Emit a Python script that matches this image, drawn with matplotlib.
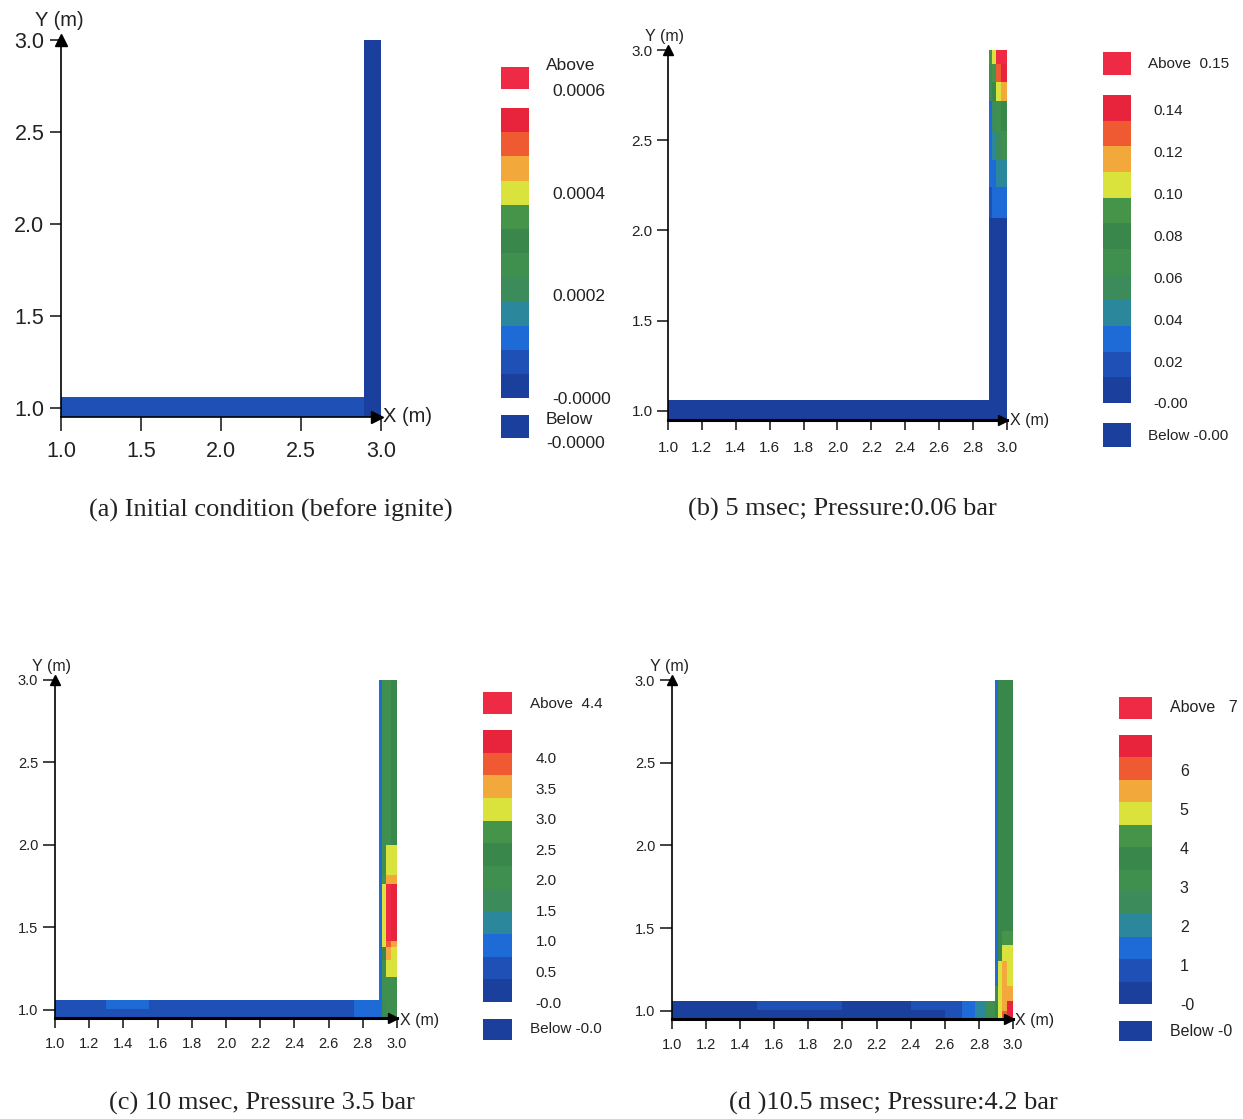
import numpy as np
import matplotlib
matplotlib.use("Agg")
import matplotlib.pyplot as plt
from matplotlib.colors import ListedColormap, BoundaryNorm
from matplotlib.cm import ScalarMappable

W, H = 1243, 1119

# contour band colours, low -> high
BAND_COLORS = ["#1b3f9c", "#1f50b6", "#1e6bd8", "#2a879c", "#3b8c5a", "#3f8f4e",
               "#3a874c", "#46944a", "#d9e33c", "#f2a83a", "#f05a32", "#e8233c"]
OVER_COLOR = "#ee2a44"
UNDER_COLOR = "#1b3f9c"

# vertical leg columns (x edges across pipe width)
V_X = [2.895, 2.91, 2.935, 2.965, 3.0]
H_Y = [0.95, 1.005, 1.06]

# ---- panel (a): initial condition
a_vmax = 0.000565
a_hx = [1.0, 1.4, 1.9, 2.3, 2.6, 2.895]
a_hval = [[0.00006, 0.00006, 0.00006, 0.00006, 0.00006],
          [0.00005, 0.00006, 0.00005, 0.00006, 0.00005]]
a_vy = [0.95, 3.0]
a_vval = [[0.00002, 0.00002, 0.00002, 0.00002]]
a_ticks = [0.0004, 0.0002, 0.0]
a_labels = ["0.0004", "0.0002", "-0.0000"]

# ---- panel (b): 5 msec
b_vmax = 0.147
b_hx = [1.0, 2.895]
b_hval = [[0.005], [0.005]]
b_vy = [0.95, 2.07, 2.24, 2.39, 2.55, 2.72, 2.82, 2.92, 3.0]
b_vval = [[0.005, 0.005, 0.005, 0.005],
          [0.02, 0.03, 0.03, 0.03],
          [0.03, 0.03, 0.045, 0.045],
          [0.03, 0.045, 0.06, 0.07],
          [0.035, 0.06, 0.07, 0.08],
          [0.06, 0.08, 0.105, 0.118],
          [0.07, 0.09, 0.13, 0.14],
          [0.09, 0.105, 0.16, 0.16]]
b_ticks = [0.14, 0.12, 0.10, 0.08, 0.06, 0.04, 0.02, 0.0]
b_labels = ["0.14", "0.12", "0.10", "0.08", "0.06", "0.04", "0.02", "-0.00"]

# ---- panel (c): 10 msec
c_vmax = 4.45
c_hx = [1.0, 1.3, 1.55, 1.85, 2.2, 2.5, 2.75, 2.895]
c_hval = [[0.5, 0.6, 0.5, 0.5, 0.5, 0.5, 0.9],
          [0.6, 0.9, 0.6, 0.6, 0.6, 0.6, 0.9]]
c_vy = [0.95, 1.06, 1.2, 1.3, 1.38, 1.42, 1.76, 1.82, 2.0, 3.0]
c_vval = [[0.9, 1.6, 2.0, 2.0],
          [1.0, 2.0, 2.2, 2.2],
          [1.0, 2.2, 3.1, 3.1],
          [1.0, 2.4, 3.5, 3.1],
          [1.0, 3.1, 3.9, 3.5],
          [1.0, 3.1, 4.6, 4.2],
          [1.0, 2.6, 3.5, 3.5],
          [1.0, 2.2, 3.1, 3.1],
          [1.0, 2.2, 2.2, 2.4]]
c_ticks = [4.0, 3.5, 3.0, 2.5, 2.0, 1.5, 1.0, 0.5, 0.0]
c_labels = ["4.0", "3.5", "3.0", "2.5", "2.0", "1.5", "1.0", "0.5", "-0.0"]

# ---- panel (d): 10.5 msec
d_vmax = 6.9
d_hx = [1.0, 1.5, 2.0, 2.4, 2.6, 2.7, 2.78, 2.84, 2.895]
d_hval = [[0.4, 0.5, 0.4, 0.5, 0.9, 1.4, 2.0, 3.0],
          [0.5, 0.6, 0.5, 0.6, 0.9, 1.5, 2.2, 3.2]]
d_vy = [0.95, 1.0, 1.06, 1.15, 1.3, 1.4, 1.48, 3.0]
d_vval = [[3.5, 5.0, 6.2, 6.8],
          [4.0, 5.0, 5.6, 6.5],
          [2.5, 5.0, 5.5, 5.5],
          [1.5, 5.0, 5.5, 5.0],
          [1.5, 3.6, 5.0, 4.8],
          [1.5, 3.6, 4.3, 4.3],
          [1.5, 3.6, 3.6, 3.6]]
d_ticks = [6, 5, 4, 3, 2, 1, 0]
d_labels = ["6", "5", "4", "3", "2", "1", "-0"]

CAPTIONS = ["(a) Initial condition (before ignite)",
            "(b) 5 msec; Pressure:0.06 bar",
            "(c) 10 msec, Pressure 3.5 bar",
            "(d )10.5 msec; Pressure:4.2 bar"]

SANS = "Liberation Sans"
SERIF = "Liberation Serif"
INK = "#222222"


def rect(x0, y0, x1, y1):
    """pixel box (top-left origin) -> figure fraction rect"""
    return [x0 / W, 1 - y1 / H, (x1 - x0) / W, (y1 - y0) / H]


def ptext(fig, x, y, s, **kw):
    """text at pixel position (top-left origin)"""
    return fig.text(x / W, 1 - y / H, s, **kw)


def make_cmap():
    cmap = ListedColormap(BAND_COLORS)
    cmap.set_over(OVER_COLOR)
    cmap.set_under(UNDER_COLOR)
    return cmap


def draw_panel(fig, p):
    cmap = make_cmap()
    norm = BoundaryNorm(np.linspace(0, p["vmax"], 13), cmap.N)

    ax = fig.add_axes(rect(*p["ax"]))
    ax.pcolormesh(p["hx"], H_Y, np.array(p["hval"]), cmap=cmap, norm=norm, shading="flat")
    ax.pcolormesh(V_X, p["vy"], np.array(p["vval"]), cmap=cmap, norm=norm, shading="flat")
    ax.set_xlim(1.0, 3.0)
    ax.set_ylim(0.95, 3.0)
    ax.set_xticks(p["xticks"])
    ax.set_xticklabels([f"{v:.1f}" for v in p["xticks"]])
    ax.set_yticks([1.0, 1.5, 2.0, 2.5, 3.0])
    ax.set_yticklabels(["1.0", "1.5", "2.0", "2.5", "3.0"])
    for s in ["top", "right"]:
        ax.spines[s].set_visible(False)
    ax.spines["left"].set_linewidth(1.2)
    ax.spines["bottom"].set_linewidth(p["xlw"])
    ax.tick_params(axis="x", direction="out", length=p["xtl"], width=1.2, pad=p["xpad"],
                   labelsize=p["fs"], colors=INK)
    ax.tick_params(axis="y", direction="out", length=p["ytl"], width=1.2, pad=p["ypad"],
                   labelsize=p["fs"], colors=INK)
    for t in ax.get_xticklabels() + ax.get_yticklabels():
        t.set_family(SANS)
    # axis arrows
    ax.plot([1.0], [3.0], marker="^", ms=p["ams"], color="black", clip_on=False, zorder=5)
    ax.plot([2.975], [0.95], marker=">", ms=p["ams"], color="black", clip_on=False, zorder=5)
    ax.set_facecolor("none")

    # axis names
    ptext(fig, *p["ylab"], "Y (m)", family=SANS, fontsize=p["lfs"], color=INK,
          va="center", ha="left")
    ptext(fig, *p["xlab"], "X (m)", family=SANS, fontsize=p["lfs"], color=INK,
          va="center", ha="left")

    # colour bar
    cx0, cx1 = p["cbx"]
    cax = fig.add_axes(rect(cx0, p["bar"][0], cx1, p["bar"][1]))
    sm = ScalarMappable(norm=norm, cmap=cmap)
    cb = fig.colorbar(sm, cax=cax, orientation="vertical", extend="neither")
    cb.outline.set_visible(False)
    cb.minorticks_off()
    cb.set_ticks(p["cticks"])
    cb.set_ticklabels(p["clabels"])
    cax.tick_params(which="both", length=0, pad=p["cpad"], labelsize=p["cfs"], colors=INK)
    for t in cax.get_yticklabels():
        t.set_family(SANS)
        t.set_ha("left")

    for box, color in [(p["above"], OVER_COLOR), (p["below"], UNDER_COLOR)]:
        bax = fig.add_axes(rect(cx0, box[0], cx1, box[1]))
        bax.set_facecolor(color)
        bax.set_xticks([])
        bax.set_yticks([])
        for s in bax.spines.values():
            s.set_visible(False)

    for x, y, s in p["cb_texts"]:
        ptext(fig, x, y, s, family=SANS, fontsize=p["cfs"], color=INK, va="center", ha="left")

    ptext(fig, *p["cap"], p["caption"], family=SERIF, fontsize=19, color=INK,
          ha="center", va="center")


fine_x = [1.0, 1.2, 1.4, 1.6, 1.8, 2.0, 2.2, 2.4, 2.6, 2.8, 3.0]

panels = [
    dict(ax=(61, 40, 381, 417), vmax=a_vmax, hx=a_hx, hval=a_hval, vy=a_vy, vval=a_vval,
         xticks=[1.0, 1.5, 2.0, 2.5, 3.0], fs=15.5, xtl=10, ytl=8, xpad=7, ypad=4, xlw=1.2,
         ams=9, lfs=14.5, ylab=(35, 20), xlab=(383, 417),
         cbx=(501, 529), bar=(108, 398), above=(67, 89), below=(415, 438),
         cticks=a_ticks, clabels=a_labels, cpad=17, cfs=12.5,
         cb_texts=[(546, 65, "Above"), (552, 92, "0.0006"),
                   (546, 419, "Below"), (546, 443, "-0.0000")],
         cap=(271, 510), caption=CAPTIONS[0]),
    dict(ax=(668, 50, 1007, 420), vmax=b_vmax, hx=b_hx, hval=b_hval, vy=b_vy, vval=b_vval,
         xticks=fine_x, fs=11, xtl=7, ytl=8, xpad=8, ypad=3, xlw=2.2,
         ams=7, lfs=11.5, ylab=(645, 37), xlab=(1010, 421),
         cbx=(1103, 1131), bar=(95, 403), above=(52, 75), below=(423, 447),
         cticks=b_ticks, clabels=b_labels, cpad=16, cfs=11,
         cb_texts=[(1148, 64, "Above  0.15"), (1148, 436, "Below -0.00")],
         cap=(842, 509), caption=CAPTIONS[1]),
    dict(ax=(55, 680, 397, 1018), vmax=c_vmax, hx=c_hx, hval=c_hval, vy=c_vy, vval=c_vval,
         xticks=fine_x, fs=10.5, xtl=7, ytl=9, xpad=7, ypad=3, xlw=2.2,
         ams=7, lfs=11.5, ylab=(32, 666), xlab=(400, 1020),
         cbx=(483, 512), bar=(730, 1002), above=(692, 714), below=(1019, 1040),
         cticks=c_ticks, clabels=c_labels, cpad=17, cfs=11,
         cb_texts=[(530, 704, "Above  4.4"), (530, 1029, "Below -0.0")],
         cap=(262, 1103), caption=CAPTIONS[2]),
    dict(ax=(672, 680, 1013, 1019), vmax=d_vmax, hx=d_hx, hval=d_hval, vy=d_vy, vval=d_vval,
         xticks=fine_x, fs=10.5, xtl=7, ytl=9, xpad=7, ypad=3, xlw=2.2,
         ams=7, lfs=11.5, ylab=(650, 666), xlab=(1015, 1020),
         cbx=(1119, 1152), bar=(735, 1004), above=(697, 719), below=(1021, 1041),
         cticks=d_ticks, clabels=d_labels, cpad=20, cfs=11.5,
         cb_texts=[(1170, 708, "Above   7"), (1170, 1032, "Below -0")],
         cap=(893, 1103), caption=CAPTIONS[3]),
]

fig = plt.figure(figsize=(W / 100, H / 100), dpi=100)
fig.patch.set_facecolor("white")
for p in panels:
    draw_panel(fig, p)

fig.savefig("out.png", dpi=100, facecolor="white")
